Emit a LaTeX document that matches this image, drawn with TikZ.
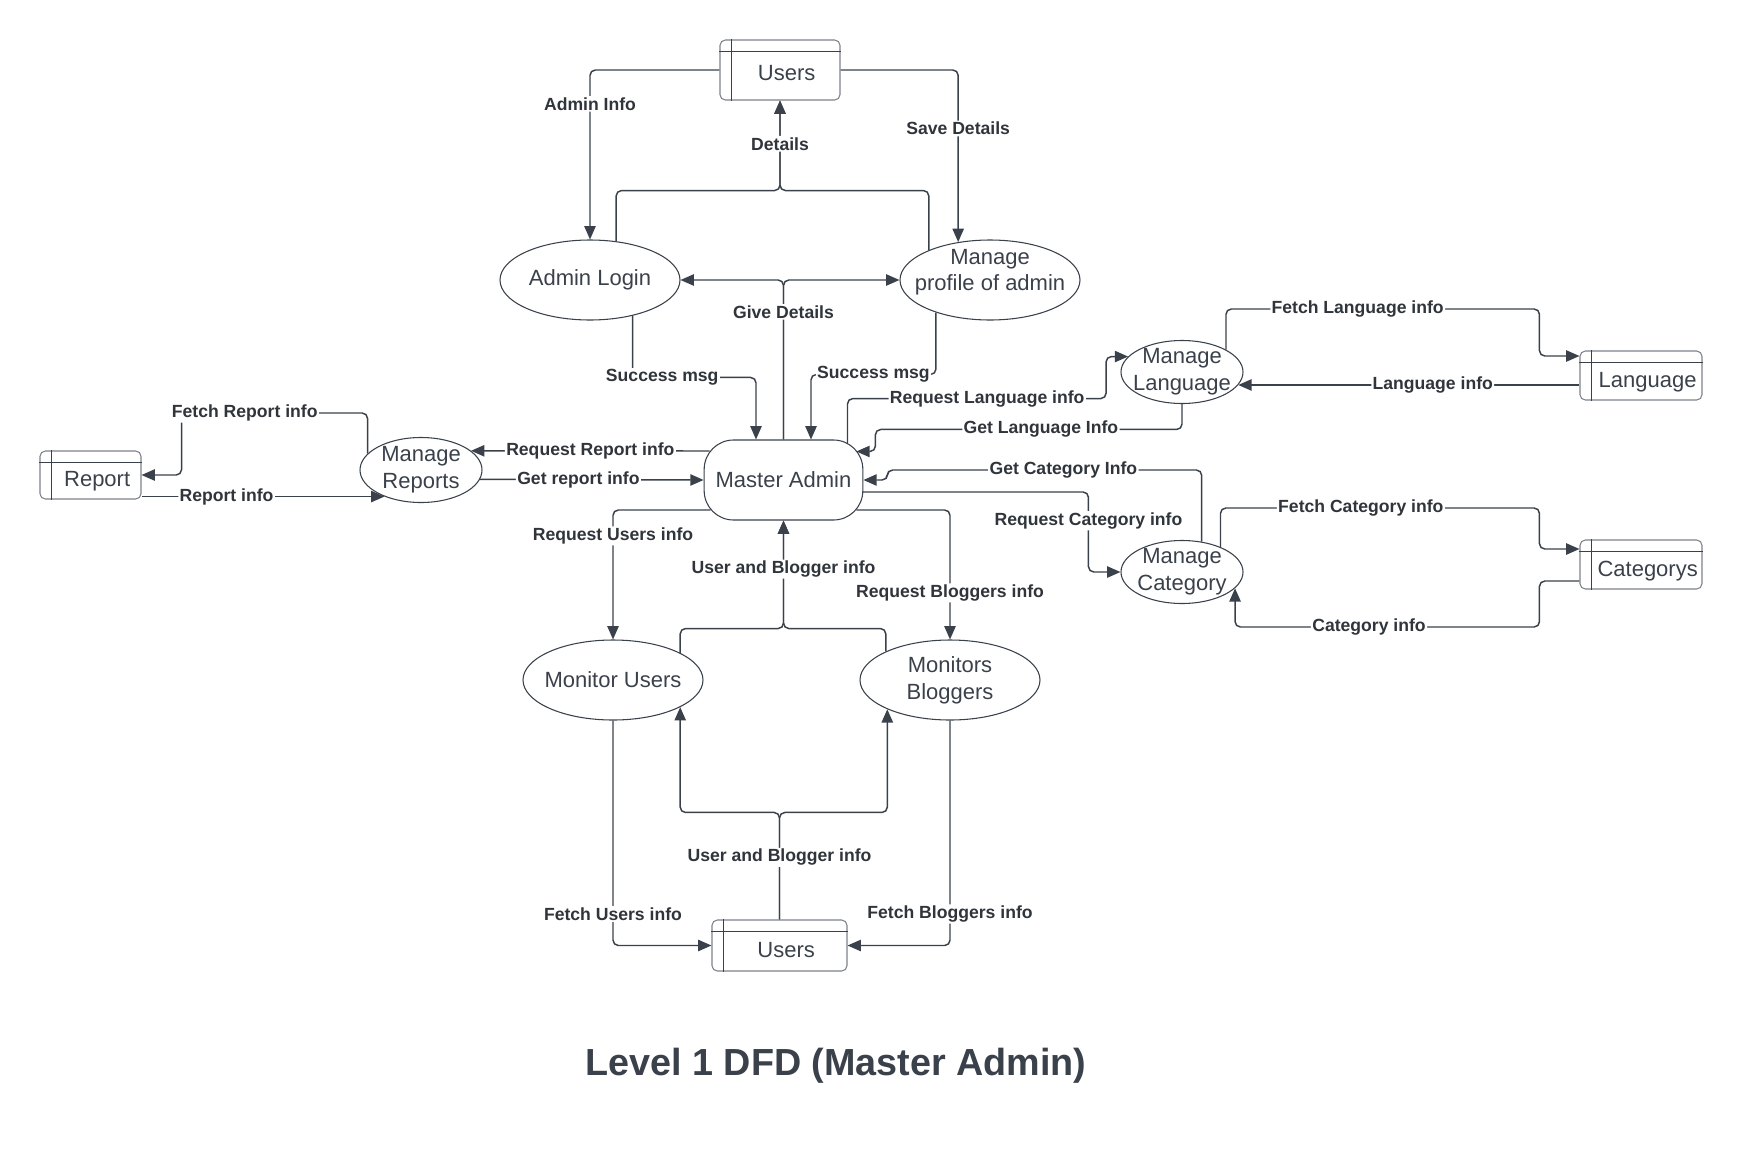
\documentclass[tikz,border=0pt]{standalone}
\usepackage{fontspec}
\setmainfont{Liberation Sans}
\usepackage{xcolor}
\usepackage{tikz}
\usetikzlibrary{shapes.geometric,arrows.meta,calc}

\definecolor{inkgray}{HTML}{3A414B}
\definecolor{boxgray}{HTML}{7D828A}
\definecolor{lblgray}{HTML}{30353C}

\begin{document}
\begin{tikzpicture}[x=0.75pt,y=0.75pt,yscale=-1,xscale=1,
    proc/.style={draw=inkgray,line width=0.8pt,ellipse,inner sep=-15pt,align=center,text=inkgray,font=\fontsize{16.5}{20}\selectfont},
    store/.style={draw=boxgray,line width=0.8pt,rounded corners=4pt,inner sep=0pt,text height=21pt,text depth=3.5pt,text=inkgray,font=\fontsize{16.5}{20}\selectfont,execute at begin node={\hspace*{10pt}}},
    inner/.style={draw=inkgray,line width=0.7pt},
    flow/.style={draw=inkgray,line width=1.1pt,rounded corners=4pt,-{Triangle[length=10pt,width=8.5pt]}},
    lbl/.style={fill=white,inner sep=1pt,text=lblgray,font=\fontsize{13.2}{15}\selectfont\bfseries}]
        \useasboundingbox (0,0) rectangle (1743,1150);

        % processes and stores
        \node[draw=inkgray,line width=0.8pt,rounded corners=22pt,minimum width=119pt,minimum height=60pt,inner sep=0pt,text=inkgray,font=\fontsize{16.5}{20}\selectfont] (masterAdmin) at (783.5,480) {Master Admin};
        \node[store,minimum width=90pt,minimum height=45pt,text height=18.5pt] (users1) at (780,70) {Users};
        \node[proc,minimum width=135pt,minimum height=60pt] (adminLogin) at (590,280) {Admin Login};
        \node[proc,minimum width=135pt,minimum height=60pt] (manageProfile) at (990,280) {\raisebox{1.5pt}[0pt][0pt]{\begin{tabular}{@{}c@{}}Manage\\profile of admin\end{tabular}}};
        \node[proc,minimum width=91.5pt,minimum height=48.75pt] (manageReports) at (421,470) {Manage\\Reports};
        \node[store,minimum width=75.75pt,minimum height=36pt] (report) at (90.5,475) {Report};
        \node[proc,minimum width=91.5pt,minimum height=47.25pt] (manageLang) at (1182,372) {Manage\\Language};
        \node[store,minimum width=91.5pt,minimum height=36.75pt] (language) at (1641,375.5) {Language};
        \node[proc,minimum width=91.5pt,minimum height=47.25pt] (manageCat) at (1182,572) {Manage\\Category};
        \node[store,minimum width=91.5pt,minimum height=36.75pt] (categorys) at (1641,564.5) {Categorys};
        \node[proc,minimum width=135pt,minimum height=60pt] (monitorUsers) at (613,680) {Monitor Users};
        \node[proc,minimum width=135pt,minimum height=60pt] (monitorBloggers) at (950,680) {Monitors\\Bloggers};
        \node[store,minimum width=101.25pt,minimum height=38.25pt] (users2) at (779.5,945.5) {Users};

        % inner lines of the stores
        \draw[inner] ($(users1.north west)+(0,12)$) -- ($(users1.north east)+(0,12)$);
        \draw[inner] ($(users1.north west)+(12,0)$) -- ($(users1.south west)+(12,0)$);
        \draw[inner] ($(report.north west)+(0,12)$) -- ($(report.north east)+(0,12)$);
        \draw[inner] ($(report.north west)+(12,0)$) -- ($(report.south west)+(12,0)$);
        \draw[inner] ($(language.north west)+(0,12)$) -- ($(language.north east)+(0,12)$);
        \draw[inner] ($(language.north west)+(12,0)$) -- ($(language.south west)+(12,0)$);
        \draw[inner] ($(categorys.north west)+(0,12)$) -- ($(categorys.north east)+(0,12)$);
        \draw[inner] ($(categorys.north west)+(12,0)$) -- ($(categorys.south west)+(12,0)$);
        \draw[inner] ($(users2.north west)+(0,12)$) -- ($(users2.north east)+(0,12)$);
        \draw[inner] ($(users2.north west)+(12,0)$) -- ($(users2.south west)+(12,0)$);

        % admin part
        \draw[flow] (users1.west) -| node[lbl,pos=0.6] (lAdminInfo) {Admin Info} (adminLogin.north);
        \draw[flow] (users1.east) -| node[lbl,pos=0.67] (lSaveDet) {Save Details} (manageProfile.130);
        \draw[flow] (manageProfile.154) |- ($(users1.south)+(0,90)$) -- (users1.south);
        \draw[flow] (adminLogin.56) |- ($(users1.south)+(0,90)$) -- node[lbl,pos=0.52] (lDetails) {Details} (users1.south);
        \draw[flow] (masterAdmin.north) |- (manageProfile.west);
        \draw[flow] (masterAdmin.north) |- node[lbl,pos=0.4] (lGiveDet) {Give Details} (adminLogin.east);
        \draw[flow] (adminLogin.320) |- node[lbl,pos=0.62] (lSucc1) {Success msg} ($(masterAdmin.north)+(-27.5,-62)$) -- ($(masterAdmin.north)+(-27.5,0)$);
        \draw[flow] (manageProfile.211) |- node[lbl,pos=0.75] (lSucc2) {Success msg} ($(masterAdmin.north)+(27.5,-65)$) -- ($(masterAdmin.north)+(27.5,0)$);

        % reports
        \draw[flow] ($(masterAdmin.west)+(6,-29)$) -- node[lbl,pos=0.5] (lReqRep) {Request Report info} (manageReports.21);
        \draw[flow] (manageReports.-9) -- node[lbl,pos=0.44] (lGetRep) {Get report info} (masterAdmin.west);
        \draw[flow] (manageReports.163) |- node[lbl,pos=0.83] (lFetchRep) {Fetch Report info} ($(report.east)+(40,-62)$) |- (report.east);
        \draw[flow] (report.east |- manageReports.216) -- node[lbl,pos=0.35] (lRepInfo) {Report info} (manageReports.216);

        % language
        \draw[flow] ($(masterAdmin.north)+(64,4)$) |- node[lbl,pos=0.77] (lReqLang) {Request Language info} ($(manageLang.164)+(-22,42)$) |- (manageLang.164);
        \draw[flow] (manageLang.south) |- node[lbl,pos=0.73] (lGetLang) {Get Language Info} ($(masterAdmin.north east)+(12,-10)$) |- ($(masterAdmin.north east)+(-7,12)$);
        \draw[flow] (manageLang.27) |- node[lbl,pos=0.71] (lFetchLang) {Fetch Language info} ($(language.west)+(-40,-66.5)$) |- ($(language.west)+(0,-19.5)$);
        \draw[flow] (language.west |- manageLang.-13) -- node[lbl,pos=0.43] (lLangInfo) {Language info} (manageLang.-13);

        % category
        \draw[flow] (manageCat.57) |- node[lbl,pos=0.72] (lGetCat) {Get Category Info} ($(masterAdmin.east)+(24,-10)$) |- (masterAdmin.east);
        \draw[flow] ($(masterAdmin.east)+(-1,12)$) -| node[lbl,pos=0.68] (lReqCat) {Request Category info} ($(manageCat.west)+(-32,0)$) -- (manageCat.west);
        \draw[flow] (manageCat.33) |- node[lbl,pos=0.72] (lFetchCat) {Fetch Category info} ($(categorys.west)+(-40,-56.5)$) |- ($(categorys.west)+(0,-15.5)$);
        \draw[flow] ($(categorys.west)+(0,16.5)$) -| ($(categorys.west)+(-40,62.5)$) -| node[lbl,pos=0.28] (lCatInfo) {Category info} (manageCat.-17);

        % users and bloggers
        \draw[flow] ($(masterAdmin.west)+(7,30)$) -| node[lbl,pos=0.6] (lReqUsers) {Request Users info} (monitorUsers.north);
        \draw[flow] ($(masterAdmin.east)+(-7,30)$) -| node[lbl,pos=0.82] (lReqBlog) {Request Bloggers info} (monitorBloggers.north);
        \draw[flow] (monitorBloggers.156) |- ($(masterAdmin.south)+(0,108)$) -- (masterAdmin.south);
        \draw[flow] (monitorUsers.22) |- ($(masterAdmin.south)+(0,108)$) -- node[lbl,pos=0.55] (lUBInfo1) {User and Blogger info} (masterAdmin.south);
        \draw[flow] (users2.north) -- ($(users2.north)+(0,-107)$) -| (monitorBloggers.205);
        \draw[flow] (users2.north) -- node[lbl,pos=0.58] (lUBInfo2) {User and Blogger info} ($(users2.north)+(0,-107)$) -| (monitorUsers.-22);
        \draw[flow] (monitorUsers.south) |- node[lbl,pos=0.43] (lFetchUsers) {Fetch Users info} (users2.west);
        \draw[flow] (monitorBloggers.south) |- node[lbl,pos=0.43] (lFetchBlog) {Fetch Bloggers info} (users2.east);

        \node[text=inkgray,font=\fontsize{28.3}{34}\selectfont\bfseries] (title) at (836,1066) {Level 1 DFD (Master Admin)};
    \end{tikzpicture}
\end{document}
